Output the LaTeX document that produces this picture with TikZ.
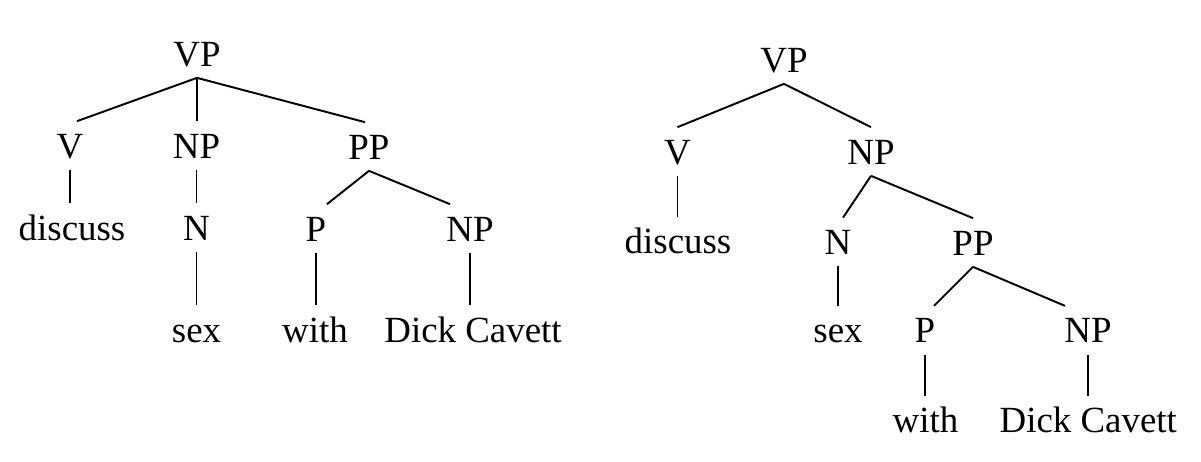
\documentclass[tikz,border=0pt]{standalone}
\usepackage{fontspec}
\setmainfont{Liberation Serif}
\usepackage{tikz}

\begin{document}
\begin{tikzpicture}[treenode/.style={anchor=base, inner sep=0.23cm, text height=0.5cm, text depth=0pt, font=\fontsize{21}{25}\selectfont}, branch/.style={line width=1.1pt}, x=0.02cm, y=-0.02cm]
\useasboundingbox (0,0) rectangle (1201,461);

% left tree: PP hangs from VP
\node[treenode] (vpL) at (197,66) {VP};
\node[treenode] (vL) at (70,158) {V};
\node[treenode] (npL) at (196.5,158) {NP};
\node[treenode] (ppL) at (369,159) {PP};
\node[treenode] (discussL) at (72,240) {discuss};
\node[treenode] (nL) at (196.5,240) {N};
\node[treenode] (pL) at (316,241) {P};
\node[treenode] (npLL) at (470,241) {NP};
\node[treenode] (sexL) at (196.5,342) {sex};
\node[treenode] (withL) at (315,342) {with};
\node[treenode] (dickL) at (473,342) {Dick Cavett};

\draw[branch] (vpL.south) -- ([xshift=0.14cm]vL.north);
\draw[branch] (vpL.south) -- (vpL.south |- npL.north);
\draw[branch] (vpL.south) -- ([xshift=-0.08cm]ppL.north);
\draw[branch] (vL.south) -- (vL.south |- discussL.north);
\draw[branch] (npL.south) -- (npL.south |- nL.north);
\draw[branch] (ppL.south) -- ([xshift=0.22cm]pL.north);
\draw[branch] (ppL.south) -- ([xshift=-0.4cm]npLL.north);
\draw[branch] (nL.south) -- (nL.south |- sexL.north);
\draw[branch] (pL.south) -- (pL.south |- withL.north);
\draw[branch] (npLL.south) -- (npLL.south |- dickL.north);

% right tree: PP hangs from NP
\node[treenode] (vpR) at (784,72) {VP};
\node[treenode] (vR) at (677.5,164) {V};
\node[treenode] (npR) at (871,164) {NP};
\node[treenode] (discussR) at (678,253.5) {discuss};
\node[treenode] (nR) at (838,254.5) {N};
\node[treenode] (ppR) at (973,255) {PP};
\node[treenode] (sexR) at (838,342.5) {sex};
\node[treenode] (pR) at (925,342.7) {P};
\node[treenode] (npRR) at (1088,342.7) {NP};
\node[treenode] (withR) at (925.5,432.7) {with};
\node[treenode] (dickR) at (1088.3,432.7) {Dick Cavett};

\draw[branch] (vpR.south) -- (vR.north);
\draw[branch] (vpR.south) -- (npR.north);
\draw[branch] (vR.south) -- (vR.south |- discussR.north);
\draw[branch] (npR.south) -- ([xshift=0.1cm]nR.north);
\draw[branch] (npR.south) -- (ppR.north);
\draw[branch] (nR.south) -- (nR.south |- sexR.north);
\draw[branch] (ppR.south) -- ([xshift=0.18cm]pR.north);
\draw[branch] (ppR.south) -- ([xshift=-0.46cm]npRR.north);
\draw[branch] (pR.south) -- (pR.south |- withR.north);
\draw[branch] (npRR.south) -- (npRR.south |- dickR.north);

\end{tikzpicture}
\end{document}
